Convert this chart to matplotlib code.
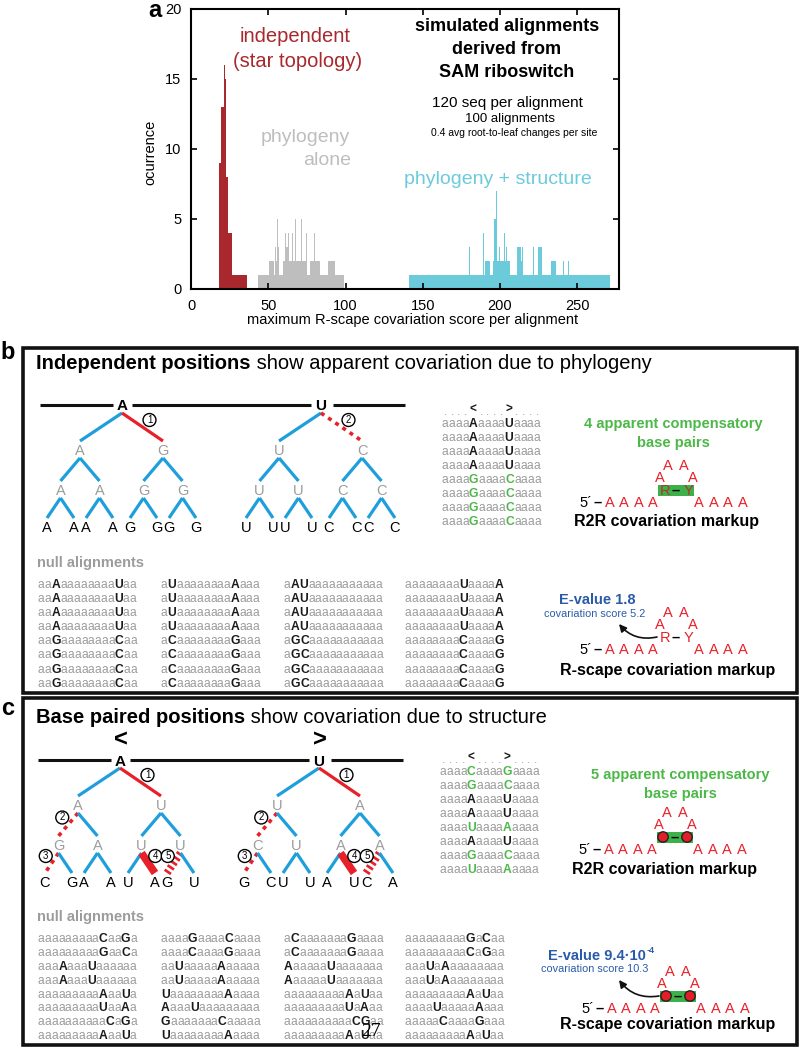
import numpy as np
import matplotlib
matplotlib.use('Agg')
import matplotlib.pyplot as plt
from matplotlib.patches import Rectangle, Circle
from matplotlib import font_manager, ft2font
from matplotlib.font_manager import FontProperties

FAM = ['Liberation Sans', 'DejaVu Sans']
plt.rcParams['font.family'] = FAM

# ---------------- data: panel a histograms ----------------
red_edges = [17.8, 19.2, 19.7, 21.3, 21.8, 22.4, 24.0, 25.0, 25.4, 26.6, 36.5]
red_counts = [9, 18, 13, 16, 15, 8, 4, 7, 4, 1]

gray_edges = [43.3, 50.5, 53.6, 54.5, 55.2, 55.8, 56.4, 57.2, 59.5, 60.9, 61.6, 62.6,
              63.2, 64.4, 65.0, 65.4, 66.0, 67.4, 68.0, 71.3, 71.9, 73.5, 74.1, 74.6,
              75.2, 77.0, 79.6, 80.2, 83.2, 83.8, 88.5, 93.0, 98.7]
gray_counts = [1, 2, 1, 3, 2, 5, 3, 1, 2, 4, 3, 4, 2, 4, 2, 4, 2, 5, 2, 5, 2, 6, 2, 4,
               1, 2, 4, 2, 4, 1, 2, 1]

cyan_edges = [140.8, 179.6, 180.4, 188.7, 189.5, 190.4, 193.6, 195.5, 196.3, 197.1,
              198.3, 199.5, 200.3, 202.3, 203.1, 204.0, 204.8, 206.5, 211.0, 213.3,
              214.3, 215.0, 221.1, 221.9, 224.6, 227.0, 233.0, 236.5, 240.8, 241.5,
              244.1, 244.8, 271.0]
cyan_counts = [1, 3, 1, 4, 1, 2, 1, 2, 5, 7, 2, 3, 2, 4, 2, 3, 2, 1, 3, 2, 3, 1, 3, 1,
               3, 1, 2, 1, 2, 1, 2, 1]

x_ticks = [0, 50, 100, 150, 200, 250]
y_ticks = [0, 5, 10, 15, 20]

# ---------------- data: trees ----------------
tree_b_left = dict(root='A', l1='AG', l2='AAGG', leaves='AAAAGGGG',
                   styles='br' + 'bbbb' + 'bbbbbbbb', circles={1: '1'})
tree_b_right = dict(root='U', l1='UC', l2='UUCC', leaves='UUUUCCCC',
                    styles='bd' + 'bbbb' + 'bbbbbbbb', circles={1: '2'})
tree_c_left = dict(root='A', l1='AU', l2='GAUU', leaves='CGAAUAGU',
                   styles='br' + 'dbbb' + 'dbbbbTSb',
                   circles={1: '1', 2: '2', 6: '3', 11: '4', 12: '5'})
tree_c_right = dict(root='U', l1='UA', l2='CUAA', leaves='GCUUAUCA',
                    styles='br' + 'dbbb' + 'dbbbbTSb',
                    circles={1: '1', 2: '2', 6: '3', 11: '4', 12: '5'})

# ---------------- data: alignments ----------------
aln_header = '....<....>....'
aln_b = ['aaaaAaaaaUaaaa'] * 4 + ['aaaaGaaaaCaaaa'] * 4
aln_b_green = [0, 0, 0, 0, 1, 1, 1, 1]
aln_c = ['aaaaCaaaaGaaaa', 'aaaaGaaaaCaaaa', 'aaaaAaaaaUaaaa', 'aaaaAaaaaUaaaa',
         'aaaaUaaaaAaaaa', 'aaaaAaaaaUaaaa', 'aaaaGaaaaCaaaa', 'aaaaUaaaaAaaaa']
aln_c_green = [1, 1, 0, 0, 1, 0, 1, 1]

null_b = [
    ['aaAaaaaaaaaUaa'] * 4 + ['aaGaaaaaaaaCaa'] * 4,
    ['aUaaaaaaaaAaaa'] * 4 + ['aCaaaaaaaaGaaa'] * 4,
    ['aAUaaaaaaaaaaa'] * 4 + ['aGCaaaaaaaaaaa'] * 4,
    ['aaaaaaaaUaaaaA'] * 4 + ['aaaaaaaaCaaaaG'] * 4,
]
null_c = [
    ['aaaaaaaaaCaaGa', 'aaaaaaaaaGaaCa', 'aaaAaaaUaaaaaa', 'aaaAaaaUaaaaaa',
     'aaaaaaaaaAaaUa', 'aaaaaaaaaUaaAa', 'aaaaaaaaaaCaGa', 'aaaaaaaaaAaaUa'],
    ['aaaaGaaaaCaaaa', 'aaaaCaaaaGaaaa', 'aaUaaaaaAaaaaa', 'aaUaaaaaAaaaaa',
     'UaaaaaaaaAaaaa', 'AaaaUaaaaaaaaa', 'GaaaaaaaCaaaaa', 'UaaaaaaaaAaaaa'],
    ['aCaaaaaaaGaaaa', 'aCaaaaaaaGaaaa', 'AaaaaaUaaaaaaa', 'AaaaaaUaaaaaaa',
     'aaaaaaaaaAaUaa', 'aaaaaaaaaUaAaa', 'aaaaaaaaaaCGaa', 'aaaaaaaaaAaUaa'],
    ['aaaaaaaaaGaCaa', 'aaaaaaaaaCaGaa', 'aaaUaAaaaaaaaa', 'aaaUaAaaaaaaaa',
     'aaaaaaaaaAaUaa', 'aaaaUaaaaaAaaa', 'aaaaaCaaaaGaaa', 'aaaaaaaaaAaUaa'],
]

hp_left = 'AAAA'
hp_right = 'AAAA'
hp_loop = 'AAAA'
pair_b = ('R', 'Y')
evalue_b, score_b = '1.8', '5.2'
evalue_c, evalue_c_exp, score_c = '9.4·10', '-4', '10.3'
n_comp_b, n_comp_c = 4, 5

# ---------------- colours ----------------
RED_H = '#A8282D'
GRAY_H = '#BEBEBE'
CYAN_H = '#6CCBDB'
BLUE_T = '#1E9FDC'
RED_T = '#E8202A'
GREEN = '#4CB848'
GRAY_A = '#9C9C9C'
DARK = '#1A1A1A'
BLUE_E = '#2A5BA8'

W, H = 800, 1048
PT = 100 / 72.0
fig = plt.figure(figsize=(8, 10.48), dpi=100)
ax = fig.add_axes([0, 0, 1, 1])
ax.set_xlim(0, W)
ax.set_ylim(H, 0)
ax.axis('off')

_fc = {}


def _font(weight):
    if weight not in _fc:
        path = font_manager.findfont(FontProperties(family='Liberation Sans', weight=weight))
        _fc[weight] = ft2font.FT2Font(path)
    return _fc[weight]


def twidth(s, size, weight):
    f = _font(weight)
    f.set_size(size, 100)
    w = 0.0
    for ch in s:
        g = f.load_char(ord(ch))
        w += g.linearHoriAdvance / 65536.0
    return w


def T(x, y, s, size, color='black', weight='normal', ha='center', k=0.36, **kw):
    ax.text(x, y + k * size * PT, s, fontsize=size, color=color, fontweight=weight,
            ha=ha, va='baseline', **kw)


def rich(x, y, segs, size, ha='left', k=0.36):
    widths = [twidth(s, size, w) for s, c, w in segs]
    tot = sum(widths)
    x0 = x - tot / 2 if ha == 'center' else (x - tot if ha == 'right' else x)
    for (s, c, w), wd in zip(segs, widths):
        ax.text(x0, y + k * size * PT, s, fontsize=size, color=c, fontweight=w,
                ha='left', va='baseline')
        x0 += wd


def seq_row(x, y, s, hi_color, size=8.7):
    """Place each character of an alignment row on its own advance cell."""
    centers = []
    xs = x
    yb = y + 0.33 * size * PT
    for ch in s:
        up = ch.isupper()
        wgt = 'bold' if up else 'normal'
        adv = twidth(ch, size, wgt)
        ax.text(xs + adv / 2, yb, ch, fontsize=size, ha='center', va='baseline',
                color=hi_color if up else GRAY_A, fontweight=wgt)
        centers.append(xs + adv / 2)
        xs += adv
    return centers


# ---------------- panel a ----------------
ax_h = fig.add_axes([191 / W, 1 - 289 / H, 428 / W, 280 / H])
ax_h.patch.set_alpha(0)
ax_h.stairs(red_counts, red_edges, fill=True, color=RED_H, lw=0)
ax_h.stairs(gray_counts, gray_edges, fill=True, color=GRAY_H, lw=0)
ax_h.stairs(cyan_counts, cyan_edges, fill=True, color=CYAN_H, lw=0)
ax_h.set_xlim(0, 277)
ax_h.set_ylim(0, 20)
ax_h.set_xticks(x_ticks)
ax_h.set_yticks(y_ticks)
ax_h.tick_params(direction='in', top=True, right=True, length=4, width=1.2,
                 labelsize=10.5, pad=7)
for sp in ax_h.spines.values():
    sp.set_linewidth(1.5)

ax.text(155, 17, 'a', fontsize=17, fontweight='bold', ha='center', va='baseline')
ax.text(150, 152, 'ocurrence', rotation=90, fontsize=10.5, ha='center', va='center')
T(413, 320, 'maximum R-scape covariation score per alignment', 10.5, k=0.3)
T(295, 36, 'independent', 14.5, RED_H, k=0.3)
T(298, 61, '(star topology)', 14.5, RED_H, k=0.3)
T(350, 136, 'phylogeny', 14, GRAY_H, ha='right', k=0.3)
T(351, 159, 'alone', 14, GRAY_H, ha='right', k=0.3)
T(498, 178, 'phylogeny + structure', 14, CYAN_H, k=0.3)
T(507, 26, 'simulated alignments', 13, 'black', 'bold', k=0.3)
T(507, 49, 'derived from', 13, 'black', 'bold', k=0.3)
T(507, 72, 'SAM riboswitch', 13, 'black', 'bold', k=0.3)
T(507, 102, '120 seq per alignment', 11, k=0.3)
T(510, 118, '100 alignments', 9.5, k=0.3)
T(514, 133, '0.4 avg root-to-leaf changes per site', 7.5, k=0.3)

# ---------------- boxes ----------------
ax.add_patch(Rectangle((23, 348), 774, 345, fill=False, lw=2.6, ec='#111111'))
ax.add_patch(Rectangle((23, 698), 774, 347, fill=False, lw=2.6, ec='#111111'))
T(8, 352, 'b', 17, 'black', 'bold', k=0.3)
T(8, 708, 'c', 17, 'black', 'bold', k=0.3)

rich(36, 362, [('Independent positions', 'black', 'bold'),
               (' show apparent covariation due to phylogeny', 'black', 'normal')], 14.5)
rich(36, 716, [('Base paired positions', 'black', 'bold'),
               (' show covariation due to structure', 'black', 'normal')], 14.5)


# ---------------- trees ----------------
def edge(x1, y1, x2, y2, st):
    if st == 'b':
        ax.plot([x1, x2], [y1, y2], color=BLUE_T, lw=2.3, solid_capstyle='butt')
    elif st == 'r':
        ax.plot([x1, x2], [y1, y2], color=RED_T, lw=2.3, solid_capstyle='butt')
    elif st == 'd':
        ax.plot([x1, x2], [y1, y2], color=RED_T, lw=2.6, linestyle=(0, (1.1, 1.3)))
    elif st == 'T':
        ax.plot([x1, x2], [y1, y2], color=RED_T, lw=5.5, solid_capstyle='butt')
    elif st == 'S':
        ax.plot([x1, x2], [y1, y2], color=RED_T, lw=5.5, linestyle=(0, (0.35, 0.35)),
                dash_capstyle='butt')


def circ(x, y, n):
    ax.text(x, y, n, fontsize=7, ha='center', va='center',
            bbox=dict(boxstyle='circle,pad=0.15', fc='white', ec='black', lw=1.0))


def tree(rx, Y, t):
    xs1 = [rx - 42, rx + 41]
    xs2 = [xs1[0] - 19.5, xs1[0] + 19.5, xs1[1] - 19.5, xs1[1] + 19.5]
    xs3 = []
    for x in xs2:
        xs3 += [x - 13.5, x + 13.5]
    levels = [[rx], xs1, xs2, xs3]
    ys = [Y, Y + 45, Y + 85, Y + 122]
    ei = 0
    for lv in range(3):
        for i, px in enumerate(levels[lv]):
            for j in (0, 1):
                cx = levels[lv + 1][2 * i + j]
                x1, y1, x2, y2 = px, ys[lv] + 8, cx, ys[lv + 1] - 9
                edge(x1, y1, x2, y2, t['styles'][ei])
                if ei in t['circles']:
                    mx, my = (x1 + x2) / 2, (y1 + y2) / 2
                    dx = 7 if x2 > x1 else -6
                    circ(mx + dx, my - 7, t['circles'][ei])
                ei += 1
    T(rx, ys[0], t['root'], 11, 'black', 'bold')
    for x, s in zip(xs1, t['l1']):
        T(x, ys[1], s, 10.5, GRAY_A)
    for x, s in zip(xs2, t['l2']):
        T(x, ys[2], s, 10.5, GRAY_A)
    for x, s in zip(xs3, t['leaves']):
        T(x, ys[3], s, 10.5, 'black')


def top_line(r1, r2, Y):
    for a, b in [(r1 - 82, r1 - 9), (r1 + 10, r2 - 10), (r2 + 12, r2 + 84)]:
        ax.plot([a, b], [Y, Y], color='#111111', lw=2.2, solid_capstyle='butt')


top_line(122, 321, 405)
tree(122, 405, tree_b_left)
tree(321, 405, tree_b_right)

top_line(120, 319, 760)
tree(120, 760, tree_c_left)
tree(319, 760, tree_c_right)
T(121, 738, '<', 17, 'black', 'bold')
T(320, 738, '>', 17, 'black', 'bold')


# ---------------- alignments ----------------
def alignment(x, y0, rows, greens):
    centers = None
    for i, (r, g) in enumerate(zip(rows, greens)):
        c = seq_row(x, y0 + 14 * i, r, GREEN if g else DARK)
        if centers is None:
            centers = c
    for cx, ch in zip(centers, aln_header):
        if ch == '.':
            T(cx, y0 - 14, ch, 8.5, GRAY_A, k=0.5)
        else:
            T(cx, y0 - 14, ch, 8.5, DARK, 'bold', k=0.36)


alignment(442, 423, aln_b, aln_b_green)
alignment(440, 771, aln_c, aln_c_green)


def nulls(y_title, y0, cols, dy):
    T(37, y_title, 'null alignments', 10.5, GRAY_A, 'bold', ha='left', k=0.3)
    for xc, col in zip([38, 161, 284, 405], cols):
        for i, r in enumerate(col):
            seq_row(xc, y0 + dy * i, r, DARK)


nulls(563, 584, null_b, 14.1)
nulls(917, 938, null_c, 13.9)


# ---------------- hairpins ----------------
def hairpin(cx, y0, kind):
    T(cx - 90, y0, '5´', 10.5, 'black')
    T(cx - 78, y0 - 1, '–', 10.5, 'black', 'bold')
    for i, s in enumerate(hp_left):
        T(cx - 66 + 14.3 * i, y0, s, 10.5, RED_T)
    for i, s in enumerate(hp_right):
        T(cx + 23 + 14.5 * i, y0, s, 10.5, RED_T)
    T(cx - 16.5, y0 - 25, hp_loop[0], 10.5, RED_T)
    T(cx - 8.5, y0 - 37, hp_loop[1], 10.5, RED_T)
    T(cx + 8, y0 - 37, hp_loop[2], 10.5, RED_T)
    T(cx + 17, y0 - 25, hp_loop[3], 10.5, RED_T)
    yp = y0 - 12
    if kind in ('r2r', 'circ'):
        ax.add_patch(Rectangle((cx - 18, yp - 5.5), 36, 11, fc='#3DB04A', ec='none'))
    if kind in ('r2r', 'ry'):
        col = '#B5322C' if kind == 'r2r' else RED_T
        T(cx - 11, yp, pair_b[0], 10.5, col)
        T(cx + 12, yp, pair_b[1], 10.5, col)
        T(cx, yp - 1, '–', 10.5, 'black', 'bold')
    else:
        for dx in (-12, 12):
            ax.add_patch(Circle((cx + dx, yp), 5.2, fc='#E41E26', ec='#222222', lw=1))
        T(cx, yp - 1, '–', 10.5, 'black', 'bold')


def arrow(cx, y0, tx, ty):
    ax.annotate('', xy=(tx, ty), xytext=(cx - 19, y0 - 12),
                arrowprops=dict(arrowstyle='-|>', color='#111111', lw=1.2,
                                mutation_scale=11, shrinkA=0, shrinkB=0,
                                connectionstyle='arc3,rad=-0.3'))


# b
T(673, 423, f'{n_comp_b} apparent compensatory', 10.5, GREEN, 'bold')
T(673, 442, 'base pairs', 10.5, GREEN, 'bold')
hairpin(676, 502, 'r2r')
T(667, 520, 'R2R covariation markup', 11.5, 'black', 'bold')

T(597, 599, f'E-value {evalue_b}', 10.5, BLUE_E, 'bold')
T(595, 613, f'covariation score {score_b}', 7.8, BLUE_E)
hairpin(676, 649, 'ry')
arrow(676, 649, 619, 624)
T(668, 669, 'R-scape covariation markup', 11.5, 'black', 'bold')

# c
T(680, 774, f'{n_comp_c} apparent compensatory', 10.5, GREEN, 'bold')
T(680, 793, 'base pairs', 10.5, GREEN, 'bold')
hairpin(675, 849, 'circ')
T(665, 868, 'R2R covariation markup', 11.5, 'black', 'bold')

rich(597, 955, [('E-value ' + evalue_c, BLUE_E, 'bold')], 10.5, ha='center')
wmain = twidth('E-value ' + evalue_c, 10.5, 'bold')
T(597 + wmain / 2 + 0.5, 950, evalue_c_exp, 6.5, BLUE_E, 'bold', ha='left')
T(595, 968, f'covariation score {score_c}', 7.8, BLUE_E)
hairpin(678, 1008, 'circ')
arrow(678, 1008, 619, 980)
T(668, 1023, 'R-scape covariation markup', 11.5, 'black', 'bold')

ax.text(371, 1036, '27', fontsize=14, family=['Liberation Serif', 'DejaVu Serif'],
        ha='center', va='baseline')

fig.savefig('out.png', dpi=100)
